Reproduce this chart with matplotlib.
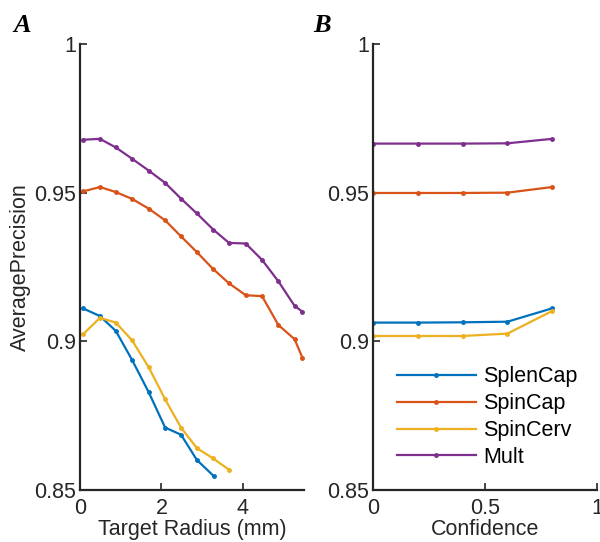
import matplotlib
matplotlib.use("Agg")
import matplotlib.pyplot as plt

plt.rcParams["font.family"] = ["Liberation Sans", "DejaVu Sans"]

series_names = ["SplenCap", "SpinCap", "SpinCerv", "Mult"]
colors = ["#0072BD", "#D95319", "#EDB120", "#7E2F8E"]

# Panel A: AP vs target radius (mm)
radius_full = [0.07, 0.49, 0.88, 1.28, 1.69, 2.09, 2.48, 2.87, 3.27, 3.66,
               4.07, 4.47, 4.87, 5.27, 5.46]
splencap_r = [0.07, 0.49, 0.88, 1.28, 1.69, 2.09, 2.48, 2.87, 3.29]
splencap_a = [0.9111, 0.9085, 0.9035, 0.8937, 0.8828, 0.8710, 0.8686, 0.8601, 0.8546]
spincerv_r = [0.07, 0.49, 0.88, 1.28, 1.69, 2.09, 2.48, 2.87, 3.27, 3.66]
spincerv_a = [0.9023, 0.9079, 0.9063, 0.9003, 0.8912, 0.8805, 0.8710, 0.8641, 0.8606, 0.8568]
spincap_a = [0.9504, 0.9519, 0.9502, 0.9479, 0.9446, 0.9407, 0.9353, 0.9300,
             0.9243, 0.9195, 0.9155, 0.9152, 0.9055, 0.9007, 0.8945]
mult_a = [0.9678, 0.9681, 0.9652, 0.9614, 0.9574, 0.9533, 0.9480, 0.9430,
          0.9376, 0.9331, 0.9329, 0.9274, 0.9202, 0.9119, 0.9100]

# Panel B: AP vs confidence threshold
confidence = [0.0, 0.2, 0.4, 0.6, 0.8]
splencap_b = [0.9063, 0.9063, 0.9064, 0.9066, 0.9111]
spincap_b = [0.9499, 0.9499, 0.9499, 0.9500, 0.9519]
spincerv_b = [0.9018, 0.9018, 0.9018, 0.9026, 0.9102]
mult_b = [0.9665, 0.9665, 0.9665, 0.9666, 0.9681]

fig = plt.figure(figsize=(6.0, 5.42), dpi=100)
ax_a = fig.add_axes([80 / 600, 52 / 542, 224 / 600, 446 / 542])
ax_b = fig.add_axes([373 / 600, 52 / 542, 224 / 600, 446 / 542])

line_kw = dict(lw=1.6, marker="o", ms=2.5)
panel_a = [(splencap_r, splencap_a), (radius_full, spincap_a),
           (spincerv_r, spincerv_a), (radius_full, mult_a)]
for (xs, ys), c, name in zip(panel_a, colors, series_names):
    ax_a.plot(xs, ys, color=c, label=name, **line_kw)

panel_b = [splencap_b, spincap_b, spincerv_b, mult_b]
for ys, c, name in zip(panel_b, colors, series_names):
    ax_b.plot(confidence, ys, color=c, label=name, **line_kw)

fs = 15.5
tc = "#262626"
for ax in (ax_a, ax_b):
    ax.set_ylim(0.85, 1.0)
    ax.set_yticks([0.85, 0.9, 0.95, 1.0])
    ax.set_yticklabels(["0.85", "0.9", "0.95", "1"])
    for side in ("top", "right"):
        ax.spines[side].set_visible(False)
    for side in ("left", "bottom"):
        ax.spines[side].set_linewidth(1.6)
        ax.spines[side].set_color(tc)
    ax.tick_params(direction="in", length=5, width=1.2, labelsize=fs, colors=tc)
    ax.tick_params(axis="y", pad=3)
    ax.tick_params(axis="x", pad=6)

ax_a.set_xlim(0, 5.5)
ax_a.set_xticks([0, 2, 4])
ax_a.set_xlabel("Target Radius (mm)", fontsize=fs, color=tc, labelpad=0)
ax_a.set_ylabel("AveragePrecision", fontsize=fs, color=tc, labelpad=2)

ax_b.set_xlim(0, 1)
ax_b.set_xticks([0, 0.5, 1])
ax_b.set_xticklabels(["0", "0.5", "1"])
ax_b.set_xlabel("Confidence", fontsize=fs, color=tc, labelpad=0)

ax_b.legend(loc="upper left", bbox_to_anchor=(0.107, 0.277), frameon=False,
            fontsize=fs, handlelength=3.67, handletextpad=0.33,
            labelspacing=0.27, borderaxespad=0, borderpad=0)

fig.text(22 / 600, 1 - 25 / 542, "A", fontsize=19, fontweight="bold",
         fontstyle="italic", family="Liberation Serif", ha="center", va="center")
fig.text(322 / 600, 1 - 25 / 542, "B", fontsize=19, fontweight="bold",
         fontstyle="italic", family="Liberation Serif", ha="center", va="center")

fig.savefig("out.png", dpi=100)
